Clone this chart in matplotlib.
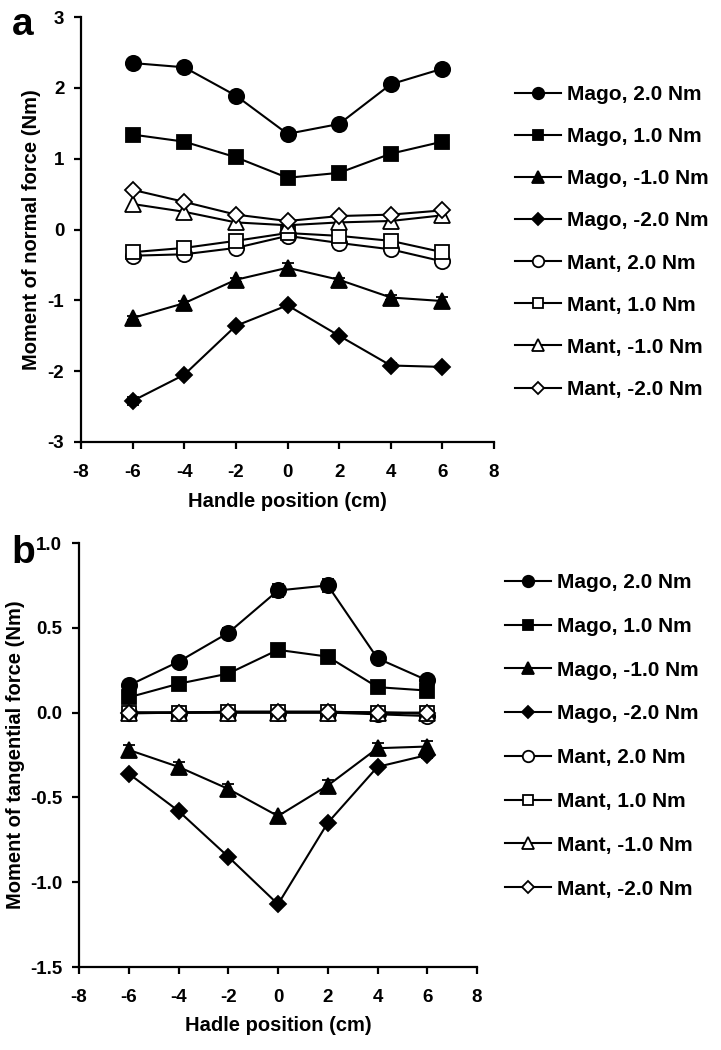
import matplotlib
matplotlib.use("Agg")
import matplotlib.pyplot as plt
import numpy as np

plt.rcParams['font.family'] = ['Liberation Sans', 'DejaVu Sans']
plt.rcParams['font.weight'] = 'bold'
plt.rcParams['axes.unicode_minus'] = False

# ---------------- data ----------------
positions = [-6, -4, -2, 0, 2, 4, 6]
labels = ["Mago, 2.0 Nm", "Mago, 1.0 Nm", "Mago, -1.0 Nm", "Mago, -2.0 Nm",
          "Mant, 2.0 Nm", "Mant, 1.0 Nm", "Mant, -1.0 Nm", "Mant, -2.0 Nm"]

# Panel a: moment of normal force (Nm)
a_mago_2 = [2.35, 2.29, 1.89, 1.35, 1.49, 2.05, 2.27]
a_mago_1 = [1.34, 1.24, 1.02, 0.73, 0.80, 1.07, 1.24]
a_mago_m1 = [-1.25, -1.04, -0.71, -0.54, -0.71, -0.96, -1.01]
a_mago_m2 = [-2.42, -2.05, -1.36, -1.07, -1.50, -1.92, -1.94]
a_mant_2 = [-0.37, -0.35, -0.26, -0.09, -0.19, -0.28, -0.45]
a_mant_1 = [-0.32, -0.26, -0.16, -0.05, -0.09, -0.16, -0.32]
a_mant_m1 = [0.36, 0.25, 0.10, 0.06, 0.10, 0.12, 0.20]
a_mant_m2 = [0.56, 0.39, 0.21, 0.12, 0.19, 0.21, 0.27]

a_err_mago_2 = [0.02, 0.02, 0.02, 0.02, 0.02, 0.02, 0.02]
a_err_mago_1 = [0.02, 0.02, 0.02, 0.02, 0.02, 0.02, 0.02]
a_err_mago_m1 = [0.03, 0.03, 0.03, 0.07, 0.03, 0.03, 0.06]
a_err_mago_m2 = [0.06, 0.03, 0.03, 0.03, 0.03, 0.03, 0.03]

# Panel b: moment of tangential force (Nm)
b_mago_2 = [0.16, 0.30, 0.47, 0.72, 0.75, 0.32, 0.19]
b_mago_1 = [0.09, 0.17, 0.23, 0.37, 0.33, 0.15, 0.13]
b_mago_m1 = [-0.22, -0.32, -0.45, -0.61, -0.43, -0.21, -0.20]
b_mago_m2 = [-0.36, -0.58, -0.85, -1.13, -0.65, -0.32, -0.25]
b_mant_2 = [0.00, 0.00, 0.00, 0.00, 0.00, -0.01, -0.02]
b_mant_1 = [0.00, 0.00, 0.005, 0.005, 0.005, 0.00, 0.00]
b_mant_m1 = [-0.005, 0.00, 0.00, 0.00, 0.00, 0.00, -0.005]
b_mant_m2 = [0.00, 0.00, 0.005, 0.005, 0.005, 0.00, -0.005]

b_err_mago_2 = [0.02, 0.02, 0.03, 0.04, 0.04, 0.02, 0.02]
b_err_mago_1 = [0.01, 0.01, 0.01, 0.01, 0.01, 0.01, 0.01]
b_err_mago_m1 = [0.03, 0.03, 0.03, 0.02, 0.03, 0.03, 0.03]
b_err_mago_m2 = [0.01, 0.01, 0.01, 0.01, 0.01, 0.01, 0.02]

a_series = [a_mago_2, a_mago_1, a_mago_m1, a_mago_m2, a_mant_2, a_mant_1, a_mant_m1, a_mant_m2]
a_errs = [a_err_mago_2, a_err_mago_1, a_err_mago_m1, a_err_mago_m2, None, None, None, None]
b_series = [b_mago_2, b_mago_1, b_mago_m1, b_mago_m2, b_mant_2, b_mant_1, b_mant_m1, b_mant_m2]
b_errs = [b_err_mago_2, b_err_mago_1, b_err_mago_m1, b_err_mago_m2, None, None, None, None]

markers = ['o', 's', '^', 'D', 'o', 's', '^', 'D']
sizes = [11, 10.5, 11, 8, 11, 10.5, 11, 8]
faces = ['black'] * 4 + ['white'] * 4

W, H = 721, 1050
fig = plt.figure(figsize=(W / 100, H / 100), dpi=100)


def px_axes(left, right, top, bottom):
    return fig.add_axes([left / W, 1 - bottom / H, (right - left) / W, (bottom - top) / H])


def draw(ax, series, errs):
    handles = []
    for y, e, m, s, fc in zip(series, errs, markers, sizes, faces):
        h = ax.errorbar(positions, y, yerr=e, fmt='-', marker=m, markersize=s,
                        markerfacecolor=fc, markeredgecolor='black', markeredgewidth=1.3,
                        color='black', lw=1.5, ecolor='black', elinewidth=1.3,
                        capsize=4, capthick=1.3, clip_on=False)
        handles.append(h[0])
    ax.spines['top'].set_visible(False)
    ax.spines['right'].set_visible(False)
    for sp in ('left', 'bottom'):
        ax.spines[sp].set_linewidth(1.6)
    ax.tick_params(direction='out', length=5, width=1.6, labelsize=13.5)
    ax.tick_params(axis='x', pad=11)
    ax.tick_params(axis='y', pad=7)
    ax.set_xlim(-8, 8)
    ax.set_xticks(np.arange(-8, 9, 2))
    return handles


def boldify(ax):
    for t in ax.get_xticklabels() + ax.get_yticklabels():
        t.set_fontweight('bold')


# Panel a
ax1 = px_axes(81, 494, 17, 442)
h1 = draw(ax1, a_series, a_errs)
ax1.set_ylim(-3, 3)
ax1.set_yticks(np.arange(-3, 4, 1))
ax1.set_xlabel("Handle position (cm)", fontsize=14.5, fontweight='bold', labelpad=8)
ax1.set_ylabel("Moment of normal force (Nm)", fontsize=14.5, fontweight='bold', labelpad=5)
boldify(ax1)
ax1.legend(h1, labels, loc='upper left', bbox_to_anchor=(515 / W, 1 - 85 / H),
           bbox_transform=fig.transFigure, frameon=False,
           handlelength=2.2, handletextpad=0.3, labelspacing=1.11,
           borderaxespad=0, borderpad=0, markerscale=0.75,
           prop={'weight': 'bold', 'size': 15})

# Panel b
ax2 = px_axes(79, 477, 543, 967)
h2 = draw(ax2, b_series, b_errs)
ax2.set_ylim(-1.5, 1.0)
ticks_b = np.arange(-1.5, 1.01, 0.5)
ax2.set_yticks(ticks_b)
ax2.set_yticklabels([f"{v:.1f}" for v in ticks_b])
ax2.set_xlabel("Hadle position (cm)", fontsize=14.5, fontweight='bold', labelpad=7)
ax2.set_ylabel("Moment of tangential force (Nm)", fontsize=14.5, fontweight='bold', labelpad=4)
boldify(ax2)
ax2.legend(h2, labels, loc='upper left', bbox_to_anchor=(505 / W, 1 - 573 / H),
           bbox_transform=fig.transFigure, frameon=False,
           handlelength=2.2, handletextpad=0.3, labelspacing=1.19,
           borderaxespad=0, borderpad=0, markerscale=0.75,
           prop={'weight': 'bold', 'size': 15})

fig.text(12 / W, 1 - 35 / H, 'a', fontsize=28, fontweight='bold', va='baseline')
fig.text(11 / W, 1 - 563 / H, 'b', fontsize=28, fontweight='bold', va='baseline')

fig.savefig("out.png", dpi=100)
